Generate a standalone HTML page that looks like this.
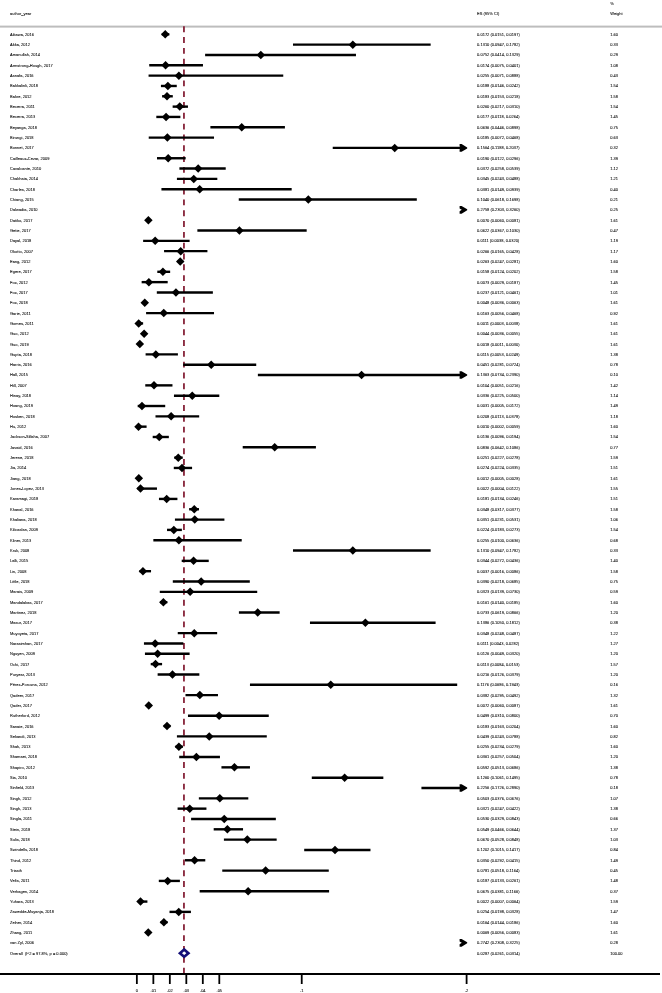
<!DOCTYPE html><html><head><meta charset="utf-8"><style>html,body{margin:0;padding:0;background:#fff;}svg{display:block;will-change:transform}text{stroke:#000;stroke-width:0.06px}</style></head><body>
<svg width="662" height="993" viewBox="0 0 662 993" font-family="Liberation Sans, sans-serif" font-size="4.00" fill="#000">
<text x="10.00" y="15">author_year</text>
<text x="477.10" y="15">ES (95% CI)</text>
<text x="610.20" y="5.2">%</text>
<text x="610.20" y="15.0">Weight</text>
<rect x="0" y="25.6" width="662" height="2" fill="#bdbdbd"/>
<line x1="183.95" y1="26.3" x2="183.95" y2="973" stroke="#862339" stroke-width="1.80" stroke-dasharray="5.9 4.92"/>
<text x="10.00" y="35.80">Aikawa, 2016</text>
<text x="477.10" y="35.80">0.0172 (0.0151, 0.0197)</text>
<text x="610.20" y="35.80">1.60</text>
<line x1="161.76" y1="34.35" x2="169.34" y2="34.35" stroke="#000" stroke-width="2.40"/>
<polygon points="160.97,34.35 165.22,30.10 169.47,34.35 165.22,38.60" fill="#000"/>
<text x="10.00" y="46.12">Akka, 2012</text>
<text x="477.10" y="46.12">0.1310 (0.0947, 0.1782)</text>
<text x="610.20" y="46.12">0.33</text>
<line x1="292.99" y1="44.67" x2="430.66" y2="44.67" stroke="#000" stroke-width="2.40"/>
<polygon points="348.59,44.67 352.84,40.42 357.09,44.67 352.84,48.92" fill="#000"/>
<text x="10.00" y="56.45">Amanullah, 2014</text>
<text x="477.10" y="56.45">0.0752 (0.0414, 0.1329)</text>
<text x="610.20" y="56.45">0.29</text>
<line x1="205.12" y1="55.00" x2="355.97" y2="55.00" stroke="#000" stroke-width="2.40"/>
<polygon points="256.59,55.00 260.84,50.75 265.09,55.00 260.84,59.25" fill="#000"/>
<text x="10.00" y="66.77">Armstrong-Hough, 2017</text>
<text x="477.10" y="66.77">0.0174 (0.0075, 0.0401)</text>
<text x="610.20" y="66.77">1.08</text>
<line x1="149.23" y1="65.32" x2="202.97" y2="65.32" stroke="#000" stroke-width="2.40"/>
<polygon points="161.30,65.32 165.55,61.07 169.80,65.32 165.55,69.57" fill="#000"/>
<text x="10.00" y="77.10">Asnafa, 2016</text>
<text x="477.10" y="77.10">0.0255 (0.0071, 0.0888)</text>
<text x="610.20" y="77.10">0.43</text>
<line x1="148.57" y1="75.65" x2="283.26" y2="75.65" stroke="#000" stroke-width="2.40"/>
<polygon points="174.65,75.65 178.90,71.40 183.15,75.65 178.90,79.90" fill="#000"/>
<text x="10.00" y="87.42">Bakkalinli, 2018</text>
<text x="477.10" y="87.42">0.0188 (0.0146, 0.0242)</text>
<text x="610.20" y="87.42">1.54</text>
<line x1="160.93" y1="85.97" x2="176.76" y2="85.97" stroke="#000" stroke-width="2.40"/>
<polygon points="163.61,85.97 167.86,81.72 172.11,85.97 167.86,90.22" fill="#000"/>
<text x="10.00" y="97.74">Bakre, 2012</text>
<text x="477.10" y="97.74">0.0183 (0.0153, 0.0218)</text>
<text x="610.20" y="97.74">1.58</text>
<line x1="162.09" y1="96.29" x2="172.80" y2="96.29" stroke="#000" stroke-width="2.40"/>
<polygon points="162.78,96.29 167.03,92.04 171.28,96.29 167.03,100.54" fill="#000"/>
<text x="10.00" y="108.07">Becerra, 2011</text>
<text x="477.10" y="108.07">0.0260 (0.0217, 0.0310)</text>
<text x="610.20" y="108.07">1.54</text>
<line x1="172.64" y1="106.62" x2="187.97" y2="106.62" stroke="#000" stroke-width="2.40"/>
<polygon points="175.48,106.62 179.73,102.37 183.98,106.62 179.73,110.87" fill="#000"/>
<text x="10.00" y="118.39">Becerra, 2013</text>
<text x="477.10" y="118.39">0.0177 (0.0118, 0.0264)</text>
<text x="610.20" y="118.39">1.45</text>
<line x1="156.31" y1="116.94" x2="180.39" y2="116.94" stroke="#000" stroke-width="2.40"/>
<polygon points="161.79,116.94 166.04,112.69 170.29,116.94 166.04,121.19" fill="#000"/>
<text x="10.00" y="128.72">Beyanga, 2018</text>
<text x="477.10" y="128.72">0.0636 (0.0446, 0.0898)</text>
<text x="610.20" y="128.72">0.75</text>
<line x1="210.39" y1="127.27" x2="284.91" y2="127.27" stroke="#000" stroke-width="2.40"/>
<polygon points="237.47,127.27 241.72,123.02 245.97,127.27 241.72,131.52" fill="#000"/>
<text x="10.00" y="139.04">Birungi, 2018</text>
<text x="477.10" y="139.04">0.0185 (0.0072, 0.0468)</text>
<text x="610.20" y="139.04">0.63</text>
<line x1="148.73" y1="137.59" x2="214.02" y2="137.59" stroke="#000" stroke-width="2.40"/>
<polygon points="163.11,137.59 167.36,133.34 171.61,137.59 167.36,141.84" fill="#000"/>
<text x="10.00" y="149.36">Bonnet, 2017</text>
<text x="477.10" y="149.36">0.1564 (0.1188, 0.2037)</text>
<text x="610.20" y="149.36">0.32</text>
<line x1="332.73" y1="147.91" x2="462.50" y2="147.91" stroke="#000" stroke-width="2.40"/>
<polygon points="459.60,144.11 461.60,144.11 467.20,147.41 467.20,148.41 461.60,151.71 459.60,151.71 459.60,149.21 461.80,147.91 459.60,146.61" fill="#000"/>
<polygon points="390.47,147.91 394.72,143.66 398.97,147.91 394.72,152.16" fill="#000"/>
<text x="10.00" y="159.69">Cailleaux-Cezar, 2009</text>
<text x="477.10" y="159.69">0.0190 (0.0122, 0.0296)</text>
<text x="610.20" y="159.69">1.39</text>
<line x1="156.97" y1="158.24" x2="185.66" y2="158.24" stroke="#000" stroke-width="2.40"/>
<polygon points="163.94,158.24 168.19,153.99 172.44,158.24 168.19,162.49" fill="#000"/>
<text x="10.00" y="170.01">Cavalcante, 2010</text>
<text x="477.10" y="170.01">0.0372 (0.0258, 0.0539)</text>
<text x="610.20" y="170.01">1.12</text>
<line x1="179.40" y1="168.56" x2="225.72" y2="168.56" stroke="#000" stroke-width="2.40"/>
<polygon points="193.94,168.56 198.19,164.31 202.44,168.56 198.19,172.81" fill="#000"/>
<text x="10.00" y="180.34">Chakhaia, 2014</text>
<text x="477.10" y="180.34">0.0345 (0.0243, 0.0488)</text>
<text x="610.20" y="180.34">1.21</text>
<line x1="176.92" y1="178.89" x2="217.32" y2="178.89" stroke="#000" stroke-width="2.40"/>
<polygon points="189.49,178.89 193.74,174.64 197.99,178.89 193.74,183.14" fill="#000"/>
<text x="10.00" y="190.66">Charles, 2018</text>
<text x="477.10" y="190.66">0.0381 (0.0149, 0.0939)</text>
<text x="610.20" y="190.66">0.40</text>
<line x1="161.43" y1="189.21" x2="291.67" y2="189.21" stroke="#000" stroke-width="2.40"/>
<polygon points="195.43,189.21 199.68,184.96 203.93,189.21 199.68,193.46" fill="#000"/>
<text x="10.00" y="200.98">Chiang, 2015</text>
<text x="477.10" y="200.98">0.1040 (0.0618, 0.1698)</text>
<text x="610.20" y="200.98">0.21</text>
<line x1="238.75" y1="199.53" x2="416.81" y2="199.53" stroke="#000" stroke-width="2.40"/>
<polygon points="304.07,199.53 308.32,195.28 312.57,199.53 308.32,203.78" fill="#000"/>
<text x="10.00" y="211.31">Dalwadia, 2010</text>
<text x="477.10" y="211.31">0.2758 (0.2303, 0.3260)</text>
<text x="610.20" y="211.31">0.25</text>
<polygon points="459.60,206.06 461.60,206.06 467.20,209.36 467.20,210.36 461.60,213.66 459.60,213.66 459.60,211.16 461.80,209.86 459.60,208.56" fill="#000"/>
<text x="10.00" y="221.63">Datiko, 2017</text>
<text x="477.10" y="221.63">0.0070 (0.0060, 0.0081)</text>
<text x="610.20" y="221.63">1.61</text>
<line x1="146.75" y1="220.18" x2="150.21" y2="220.18" stroke="#000" stroke-width="2.40"/>
<polygon points="144.15,220.18 148.40,215.93 152.65,220.18 148.40,224.43" fill="#000"/>
<text x="10.00" y="231.96">Getie, 2017</text>
<text x="477.10" y="231.96">0.0622 (0.0367, 0.1030)</text>
<text x="610.20" y="231.96">0.47</text>
<line x1="197.37" y1="230.51" x2="306.68" y2="230.51" stroke="#000" stroke-width="2.40"/>
<polygon points="235.16,230.51 239.41,226.26 243.66,230.51 239.41,234.76" fill="#000"/>
<text x="10.00" y="242.28">Dayal, 2018</text>
<text x="477.10" y="242.28">0.0111 (0.0038, 0.0320)</text>
<text x="610.20" y="242.28">1.19</text>
<line x1="143.13" y1="240.83" x2="189.62" y2="240.83" stroke="#000" stroke-width="2.40"/>
<polygon points="150.91,240.83 155.16,236.58 159.41,240.83 155.16,245.08" fill="#000"/>
<text x="10.00" y="252.60">Okotto, 2007</text>
<text x="477.10" y="252.60">0.0266 (0.0165, 0.0428)</text>
<text x="610.20" y="252.60">1.17</text>
<line x1="164.06" y1="251.15" x2="207.42" y2="251.15" stroke="#000" stroke-width="2.40"/>
<polygon points="176.47,251.15 180.72,246.90 184.97,251.15 180.72,255.40" fill="#000"/>
<text x="10.00" y="262.93">Eang, 2012</text>
<text x="477.10" y="262.93">0.0263 (0.0247, 0.0281)</text>
<text x="610.20" y="262.93">1.60</text>
<line x1="177.58" y1="261.48" x2="183.19" y2="261.48" stroke="#000" stroke-width="2.40"/>
<polygon points="175.97,261.48 180.22,257.23 184.47,261.48 180.22,265.73" fill="#000"/>
<text x="10.00" y="273.25">Egere, 2017</text>
<text x="477.10" y="273.25">0.0158 (0.0124, 0.0202)</text>
<text x="610.20" y="273.25">1.58</text>
<line x1="157.30" y1="271.80" x2="170.16" y2="271.80" stroke="#000" stroke-width="2.40"/>
<polygon points="158.66,271.80 162.91,267.55 167.16,271.80 162.91,276.05" fill="#000"/>
<text x="10.00" y="283.58">Fox, 2012</text>
<text x="477.10" y="283.58">0.0073 (0.0029, 0.0187)</text>
<text x="610.20" y="283.58">1.45</text>
<line x1="141.64" y1="282.13" x2="167.69" y2="282.13" stroke="#000" stroke-width="2.40"/>
<polygon points="144.65,282.13 148.90,277.88 153.15,282.13 148.90,286.38" fill="#000"/>
<text x="10.00" y="293.90">Fox, 2017</text>
<text x="477.10" y="293.90">0.0237 (0.0121, 0.0461)</text>
<text x="610.20" y="293.90">1.01</text>
<line x1="156.81" y1="292.45" x2="212.87" y2="292.45" stroke="#000" stroke-width="2.40"/>
<polygon points="171.68,292.45 175.93,288.20 180.18,292.45 175.93,296.70" fill="#000"/>
<text x="10.00" y="304.22">Fox, 2018</text>
<text x="477.10" y="304.22">0.0048 (0.0036, 0.0063)</text>
<text x="610.20" y="304.22">1.61</text>
<line x1="142.80" y1="302.77" x2="147.25" y2="302.77" stroke="#000" stroke-width="2.40"/>
<polygon points="140.52,302.77 144.77,298.52 149.02,302.77 144.77,307.02" fill="#000"/>
<text x="10.00" y="314.55">Garie, 2011</text>
<text x="477.10" y="314.55">0.0163 (0.0056, 0.0468)</text>
<text x="610.20" y="314.55">0.92</text>
<line x1="146.09" y1="313.10" x2="214.02" y2="313.10" stroke="#000" stroke-width="2.40"/>
<polygon points="159.48,313.10 163.73,308.85 167.98,313.10 163.73,317.35" fill="#000"/>
<text x="10.00" y="324.87">Gomes, 2011</text>
<text x="477.10" y="324.87">0.0011 (0.0003, 0.0038)</text>
<text x="610.20" y="324.87">1.61</text>
<line x1="137.35" y1="323.42" x2="143.13" y2="323.42" stroke="#000" stroke-width="2.40"/>
<polygon points="134.42,323.42 138.67,319.17 142.92,323.42 138.67,327.67" fill="#000"/>
<text x="10.00" y="335.20">Guo, 2012</text>
<text x="477.10" y="335.20">0.0044 (0.0036, 0.0055)</text>
<text x="610.20" y="335.20">1.61</text>
<line x1="142.80" y1="333.75" x2="145.93" y2="333.75" stroke="#000" stroke-width="2.40"/>
<polygon points="139.86,333.75 144.11,329.50 148.36,333.75 144.11,338.00" fill="#000"/>
<text x="10.00" y="345.52">Guo, 2019</text>
<text x="477.10" y="345.52">0.0018 (0.0011, 0.0030)</text>
<text x="610.20" y="345.52">1.61</text>
<line x1="138.67" y1="344.07" x2="141.81" y2="344.07" stroke="#000" stroke-width="2.40"/>
<polygon points="135.58,344.07 139.83,339.82 144.08,344.07 139.83,348.32" fill="#000"/>
<text x="10.00" y="355.84">Gupta, 2018</text>
<text x="477.10" y="355.84">0.0115 (0.0053, 0.0249)</text>
<text x="610.20" y="355.84">1.38</text>
<line x1="145.60" y1="354.39" x2="177.91" y2="354.39" stroke="#000" stroke-width="2.40"/>
<polygon points="151.57,354.39 155.82,350.14 160.07,354.39 155.82,358.64" fill="#000"/>
<text x="10.00" y="366.17">Harris, 2016</text>
<text x="477.10" y="366.17">0.0451 (0.0281, 0.0724)</text>
<text x="610.20" y="366.17">0.78</text>
<line x1="183.19" y1="364.72" x2="256.23" y2="364.72" stroke="#000" stroke-width="2.40"/>
<polygon points="206.97,364.72 211.22,360.47 215.47,364.72 211.22,368.97" fill="#000"/>
<text x="10.00" y="376.49">Hall, 2015</text>
<text x="477.10" y="376.49">0.1363 (0.0734, 0.2390)</text>
<text x="610.20" y="376.49">0.10</text>
<line x1="257.87" y1="375.04" x2="462.50" y2="375.04" stroke="#000" stroke-width="2.40"/>
<polygon points="459.60,371.24 461.60,371.24 467.20,374.54 467.20,375.54 461.60,378.84 459.60,378.84 459.60,376.34 461.80,375.04 459.60,373.74" fill="#000"/>
<polygon points="357.33,375.04 361.58,370.79 365.83,375.04 361.58,379.29" fill="#000"/>
<text x="10.00" y="386.82">Hill, 2007</text>
<text x="477.10" y="386.82">0.0104 (0.0051, 0.0216)</text>
<text x="610.20" y="386.82">1.42</text>
<line x1="145.27" y1="385.37" x2="172.47" y2="385.37" stroke="#000" stroke-width="2.40"/>
<polygon points="149.76,385.37 154.01,381.12 158.26,385.37 154.01,389.62" fill="#000"/>
<text x="10.00" y="397.14">Hinay, 2018</text>
<text x="477.10" y="397.14">0.0336 (0.0225, 0.0500)</text>
<text x="610.20" y="397.14">1.14</text>
<line x1="173.96" y1="395.69" x2="219.30" y2="395.69" stroke="#000" stroke-width="2.40"/>
<polygon points="188.01,395.69 192.26,391.44 196.51,395.69 192.26,399.94" fill="#000"/>
<text x="10.00" y="407.46">Hoang, 2019</text>
<text x="477.10" y="407.46">0.0031 (0.0005, 0.0172)</text>
<text x="610.20" y="407.46">1.49</text>
<line x1="137.68" y1="406.01" x2="165.22" y2="406.01" stroke="#000" stroke-width="2.40"/>
<polygon points="137.72,406.01 141.97,401.76 146.22,406.01 141.97,410.26" fill="#000"/>
<text x="10.00" y="417.79">Hosken, 2018</text>
<text x="477.10" y="417.79">0.0208 (0.0113, 0.0378)</text>
<text x="610.20" y="417.79">1.18</text>
<line x1="155.49" y1="416.34" x2="199.18" y2="416.34" stroke="#000" stroke-width="2.40"/>
<polygon points="166.90,416.34 171.15,412.09 175.40,416.34 171.15,420.59" fill="#000"/>
<text x="10.00" y="428.11">Hu, 2012</text>
<text x="477.10" y="428.11">0.0010 (0.0002, 0.0059)</text>
<text x="610.20" y="428.11">1.60</text>
<line x1="137.19" y1="426.66" x2="146.59" y2="426.66" stroke="#000" stroke-width="2.40"/>
<polygon points="134.26,426.66 138.51,422.41 142.76,426.66 138.51,430.91" fill="#000"/>
<text x="10.00" y="438.44">Jackson-Sillaha, 2007</text>
<text x="477.10" y="438.44">0.0136 (0.0096, 0.0194)</text>
<text x="610.20" y="438.44">1.54</text>
<line x1="152.69" y1="436.99" x2="168.84" y2="436.99" stroke="#000" stroke-width="2.40"/>
<polygon points="155.03,436.99 159.28,432.74 163.53,436.99 159.28,441.24" fill="#000"/>
<text x="10.00" y="448.76">Javaid, 2016</text>
<text x="477.10" y="448.76">0.0836 (0.0642, 0.1086)</text>
<text x="610.20" y="448.76">0.77</text>
<line x1="242.71" y1="447.31" x2="315.91" y2="447.31" stroke="#000" stroke-width="2.40"/>
<polygon points="270.44,447.31 274.69,443.06 278.94,447.31 274.69,451.56" fill="#000"/>
<text x="10.00" y="459.08">Jerene, 2018</text>
<text x="477.10" y="459.08">0.0251 (0.0227, 0.0278)</text>
<text x="610.20" y="459.08">1.59</text>
<line x1="174.29" y1="457.63" x2="182.69" y2="457.63" stroke="#000" stroke-width="2.40"/>
<polygon points="173.99,457.63 178.24,453.38 182.49,457.63 178.24,461.88" fill="#000"/>
<text x="10.00" y="469.41">Jia, 2014</text>
<text x="477.10" y="469.41">0.0274 (0.0224, 0.0335)</text>
<text x="610.20" y="469.41">1.51</text>
<line x1="173.79" y1="467.96" x2="192.09" y2="467.96" stroke="#000" stroke-width="2.40"/>
<polygon points="177.78,467.96 182.03,463.71 186.28,467.96 182.03,472.21" fill="#000"/>
<text x="10.00" y="479.73">Jiang, 2018</text>
<text x="477.10" y="479.73">0.0012 (0.0005, 0.0028)</text>
<text x="610.20" y="479.73">1.61</text>
<line x1="137.68" y1="478.28" x2="141.48" y2="478.28" stroke="#000" stroke-width="2.40"/>
<polygon points="134.59,478.28 138.84,474.03 143.09,478.28 138.84,482.53" fill="#000"/>
<text x="10.00" y="490.06">Jones-Lopez, 2013</text>
<text x="477.10" y="490.06">0.0022 (0.0004, 0.0122)</text>
<text x="610.20" y="490.06">1.55</text>
<line x1="137.52" y1="488.61" x2="156.97" y2="488.61" stroke="#000" stroke-width="2.40"/>
<polygon points="136.24,488.61 140.49,484.36 144.74,488.61 140.49,492.86" fill="#000"/>
<text x="10.00" y="500.38">Karamagi, 2018</text>
<text x="477.10" y="500.38">0.0181 (0.0134, 0.0246)</text>
<text x="610.20" y="500.38">1.51</text>
<line x1="158.95" y1="498.93" x2="177.42" y2="498.93" stroke="#000" stroke-width="2.40"/>
<polygon points="162.45,498.93 166.70,494.68 170.95,498.93 166.70,503.18" fill="#000"/>
<text x="10.00" y="510.70">Khanal, 2016</text>
<text x="477.10" y="510.70">0.0348 (0.0317, 0.0377)</text>
<text x="610.20" y="510.70">1.58</text>
<line x1="189.12" y1="509.25" x2="199.02" y2="509.25" stroke="#000" stroke-width="2.40"/>
<polygon points="189.98,509.25 194.23,505.00 198.48,509.25 194.23,513.50" fill="#000"/>
<text x="10.00" y="521.03">Khaliana, 2018</text>
<text x="477.10" y="521.03">0.0351 (0.0231, 0.0531)</text>
<text x="610.20" y="521.03">1.06</text>
<line x1="174.94" y1="519.58" x2="224.41" y2="519.58" stroke="#000" stroke-width="2.40"/>
<polygon points="190.48,519.58 194.73,515.33 198.98,519.58 194.73,523.83" fill="#000"/>
<text x="10.00" y="531.35">Kilicaslan, 2009</text>
<text x="477.10" y="531.35">0.0224 (0.0183, 0.0273)</text>
<text x="610.20" y="531.35">1.54</text>
<line x1="167.03" y1="529.90" x2="181.87" y2="529.90" stroke="#000" stroke-width="2.40"/>
<polygon points="169.54,529.90 173.79,525.65 178.04,529.90 173.79,534.15" fill="#000"/>
<text x="10.00" y="541.68">Kliner, 2013</text>
<text x="477.10" y="541.68">0.0255 (0.0100, 0.0636)</text>
<text x="610.20" y="541.68">0.68</text>
<line x1="153.35" y1="540.23" x2="241.72" y2="540.23" stroke="#000" stroke-width="2.40"/>
<polygon points="174.65,540.23 178.90,535.98 183.15,540.23 178.90,544.48" fill="#000"/>
<text x="10.00" y="552.00">Kruk, 2008</text>
<text x="477.10" y="552.00">0.1310 (0.0947, 0.1782)</text>
<text x="610.20" y="552.00">0.33</text>
<line x1="292.99" y1="550.55" x2="430.66" y2="550.55" stroke="#000" stroke-width="2.40"/>
<polygon points="348.59,550.55 352.84,546.30 357.09,550.55 352.84,554.80" fill="#000"/>
<text x="10.00" y="562.32">Lalli, 2015</text>
<text x="477.10" y="562.32">0.0344 (0.0272, 0.0436)</text>
<text x="610.20" y="562.32">1.40</text>
<line x1="181.70" y1="560.87" x2="208.74" y2="560.87" stroke="#000" stroke-width="2.40"/>
<polygon points="189.33,560.87 193.58,556.62 197.83,560.87 193.58,565.12" fill="#000"/>
<text x="10.00" y="572.65">Lin, 2008</text>
<text x="477.10" y="572.65">0.0037 (0.0016, 0.0086)</text>
<text x="610.20" y="572.65">1.58</text>
<line x1="139.50" y1="571.20" x2="151.04" y2="571.20" stroke="#000" stroke-width="2.40"/>
<polygon points="138.71,571.20 142.96,566.95 147.21,571.20 142.96,575.45" fill="#000"/>
<text x="10.00" y="582.97">Little, 2018</text>
<text x="477.10" y="582.97">0.0390 (0.0218, 0.0685)</text>
<text x="610.20" y="582.97">0.75</text>
<line x1="172.80" y1="581.52" x2="249.80" y2="581.52" stroke="#000" stroke-width="2.40"/>
<polygon points="196.91,581.52 201.16,577.27 205.41,581.52 201.16,585.77" fill="#000"/>
<text x="10.00" y="593.30">Marais, 2009</text>
<text x="477.10" y="593.30">0.0323 (0.0139, 0.0730)</text>
<text x="610.20" y="593.30">0.59</text>
<line x1="159.78" y1="591.85" x2="257.22" y2="591.85" stroke="#000" stroke-width="2.40"/>
<polygon points="185.86,591.85 190.11,587.60 194.36,591.85 190.11,596.10" fill="#000"/>
<text x="10.00" y="603.62">Mandalakas, 2017</text>
<text x="477.10" y="603.62">0.0161 (0.0140, 0.0185)</text>
<text x="610.20" y="603.62">1.60</text>
<line x1="159.94" y1="602.17" x2="167.36" y2="602.17" stroke="#000" stroke-width="2.40"/>
<polygon points="159.15,602.17 163.40,597.92 167.65,602.17 163.40,606.42" fill="#000"/>
<text x="10.00" y="613.94">Martinez, 2018</text>
<text x="477.10" y="613.94">0.0733 (0.0619, 0.0866)</text>
<text x="610.20" y="613.94">1.20</text>
<line x1="238.91" y1="612.49" x2="279.64" y2="612.49" stroke="#000" stroke-width="2.40"/>
<polygon points="253.46,612.49 257.71,608.24 261.96,612.49 257.71,616.74" fill="#000"/>
<text x="10.00" y="624.27">Masur, 2017</text>
<text x="477.10" y="624.27">0.1386 (0.1050, 0.1812)</text>
<text x="610.20" y="624.27">0.38</text>
<line x1="309.97" y1="622.82" x2="435.60" y2="622.82" stroke="#000" stroke-width="2.40"/>
<polygon points="361.12,622.82 365.37,618.57 369.62,622.82 365.37,627.07" fill="#000"/>
<text x="10.00" y="634.59">Muyoyeta, 2017</text>
<text x="477.10" y="634.59">0.0348 (0.0248, 0.0487)</text>
<text x="610.20" y="634.59">1.22</text>
<line x1="177.75" y1="633.14" x2="217.15" y2="633.14" stroke="#000" stroke-width="2.40"/>
<polygon points="189.98,633.14 194.23,628.89 198.48,633.14 194.23,637.39" fill="#000"/>
<text x="10.00" y="644.92">Narasimhan, 2017</text>
<text x="477.10" y="644.92">0.0111 (0.0043, 0.0282)</text>
<text x="610.20" y="644.92">1.27</text>
<line x1="143.95" y1="643.47" x2="183.35" y2="643.47" stroke="#000" stroke-width="2.40"/>
<polygon points="150.91,643.47 155.16,639.22 159.41,643.47 155.16,647.72" fill="#000"/>
<text x="10.00" y="655.24">Nguyen, 2009</text>
<text x="477.10" y="655.24">0.0126 (0.0049, 0.0320)</text>
<text x="610.20" y="655.24">1.20</text>
<line x1="144.94" y1="653.79" x2="189.62" y2="653.79" stroke="#000" stroke-width="2.40"/>
<polygon points="153.38,653.79 157.63,649.54 161.88,653.79 157.63,658.04" fill="#000"/>
<text x="10.00" y="665.56">Ochi, 2017</text>
<text x="477.10" y="665.56">0.0113 (0.0084, 0.0153)</text>
<text x="610.20" y="665.56">1.57</text>
<line x1="150.71" y1="664.11" x2="162.09" y2="664.11" stroke="#000" stroke-width="2.40"/>
<polygon points="151.24,664.11 155.49,659.86 159.74,664.11 155.49,668.36" fill="#000"/>
<text x="10.00" y="675.89">Puryear, 2013</text>
<text x="477.10" y="675.89">0.0216 (0.0126, 0.0379)</text>
<text x="610.20" y="675.89">1.20</text>
<line x1="157.63" y1="674.44" x2="199.35" y2="674.44" stroke="#000" stroke-width="2.40"/>
<polygon points="168.22,674.44 172.47,670.19 176.72,674.44 172.47,678.69" fill="#000"/>
<text x="10.00" y="686.21">Pérez-Porcuna, 2012</text>
<text x="477.10" y="686.21">0.1176 (0.0686, 0.1943)</text>
<text x="610.20" y="686.21">0.16</text>
<line x1="249.96" y1="684.76" x2="457.20" y2="684.76" stroke="#000" stroke-width="2.40"/>
<polygon points="326.50,684.76 330.75,680.51 335.00,684.76 330.75,689.01" fill="#000"/>
<text x="10.00" y="696.54">Qadeer, 2017</text>
<text x="477.10" y="696.54">0.0382 (0.0295, 0.0492)</text>
<text x="610.20" y="696.54">1.32</text>
<line x1="185.50" y1="695.09" x2="217.98" y2="695.09" stroke="#000" stroke-width="2.40"/>
<polygon points="195.59,695.09 199.84,690.84 204.09,695.09 199.84,699.34" fill="#000"/>
<text x="10.00" y="706.86">Qader, 2017</text>
<text x="477.10" y="706.86">0.0072 (0.0060, 0.0087)</text>
<text x="610.20" y="706.86">1.61</text>
<line x1="146.75" y1="705.41" x2="151.20" y2="705.41" stroke="#000" stroke-width="2.40"/>
<polygon points="144.48,705.41 148.73,701.16 152.98,705.41 148.73,709.66" fill="#000"/>
<text x="10.00" y="717.18">Rutherford, 2012</text>
<text x="477.10" y="717.18">0.0499 (0.0310, 0.0800)</text>
<text x="610.20" y="717.18">0.70</text>
<line x1="187.97" y1="715.73" x2="268.76" y2="715.73" stroke="#000" stroke-width="2.40"/>
<polygon points="214.88,715.73 219.13,711.48 223.38,715.73 219.13,719.98" fill="#000"/>
<text x="10.00" y="727.51">Sanaie, 2016</text>
<text x="477.10" y="727.51">0.0183 (0.0163, 0.0204)</text>
<text x="610.20" y="727.51">1.60</text>
<line x1="163.73" y1="726.06" x2="170.49" y2="726.06" stroke="#000" stroke-width="2.40"/>
<polygon points="162.78,726.06 167.03,721.81 171.28,726.06 167.03,730.31" fill="#000"/>
<text x="10.00" y="737.83">Sekandi, 2013</text>
<text x="477.10" y="737.83">0.0439 (0.0243, 0.0788)</text>
<text x="610.20" y="737.83">0.82</text>
<line x1="176.92" y1="736.38" x2="266.78" y2="736.38" stroke="#000" stroke-width="2.40"/>
<polygon points="204.99,736.38 209.24,732.13 213.49,736.38 209.24,740.63" fill="#000"/>
<text x="10.00" y="748.16">Shah, 2013</text>
<text x="477.10" y="748.16">0.0255 (0.0234, 0.0279)</text>
<text x="610.20" y="748.16">1.60</text>
<line x1="175.44" y1="746.71" x2="182.86" y2="746.71" stroke="#000" stroke-width="2.40"/>
<polygon points="174.65,746.71 178.90,742.46 183.15,746.71 178.90,750.96" fill="#000"/>
<text x="10.00" y="758.48">Shamaei, 2018</text>
<text x="477.10" y="758.48">0.0361 (0.0257, 0.0504)</text>
<text x="610.20" y="758.48">1.20</text>
<line x1="179.23" y1="757.03" x2="219.95" y2="757.03" stroke="#000" stroke-width="2.40"/>
<polygon points="192.13,757.03 196.38,752.78 200.63,757.03 196.38,761.28" fill="#000"/>
<text x="10.00" y="768.80">Shapiro, 2012</text>
<text x="477.10" y="768.80">0.0592 (0.0513, 0.0686)</text>
<text x="610.20" y="768.80">1.38</text>
<line x1="221.44" y1="767.35" x2="249.96" y2="767.35" stroke="#000" stroke-width="2.40"/>
<polygon points="230.21,767.35 234.46,763.10 238.71,767.35 234.46,771.60" fill="#000"/>
<text x="10.00" y="779.13">Sia, 2010</text>
<text x="477.10" y="779.13">0.1260 (0.1061, 0.1495)</text>
<text x="610.20" y="779.13">0.78</text>
<line x1="311.79" y1="777.68" x2="383.34" y2="777.68" stroke="#000" stroke-width="2.40"/>
<polygon points="340.35,777.68 344.60,773.43 348.85,777.68 344.60,781.93" fill="#000"/>
<text x="10.00" y="789.45">Sinfield, 2013</text>
<text x="477.10" y="789.45">0.2256 (0.1726, 0.2890)</text>
<text x="610.20" y="789.45">0.18</text>
<line x1="421.43" y1="788.00" x2="462.50" y2="788.00" stroke="#000" stroke-width="2.40"/>
<polygon points="459.60,784.20 461.60,784.20 467.20,787.50 467.20,788.50 461.60,791.80 459.60,791.80 459.60,789.30 461.80,788.00 459.60,786.70" fill="#000"/>
<text x="10.00" y="799.78">Singh, 2012</text>
<text x="477.10" y="799.78">0.0503 (0.0376, 0.0676)</text>
<text x="610.20" y="799.78">1.07</text>
<line x1="198.85" y1="798.33" x2="248.31" y2="798.33" stroke="#000" stroke-width="2.40"/>
<polygon points="215.54,798.33 219.79,794.08 224.04,798.33 219.79,802.58" fill="#000"/>
<text x="10.00" y="810.10">Singh, 2013</text>
<text x="477.10" y="810.10">0.0321 (0.0247, 0.0422)</text>
<text x="610.20" y="810.10">1.38</text>
<line x1="177.58" y1="808.65" x2="206.44" y2="808.65" stroke="#000" stroke-width="2.40"/>
<polygon points="185.53,808.65 189.78,804.40 194.03,808.65 189.78,812.90" fill="#000"/>
<text x="10.00" y="820.42">Singla, 2011</text>
<text x="477.10" y="820.42">0.0530 (0.0329, 0.0843)</text>
<text x="610.20" y="820.42">0.66</text>
<line x1="191.10" y1="818.97" x2="275.85" y2="818.97" stroke="#000" stroke-width="2.40"/>
<polygon points="219.99,818.97 224.24,814.72 228.49,818.97 224.24,823.22" fill="#000"/>
<text x="10.00" y="830.75">Stein, 2018</text>
<text x="477.10" y="830.75">0.0549 (0.0466, 0.0644)</text>
<text x="610.20" y="830.75">1.37</text>
<line x1="213.69" y1="829.30" x2="243.04" y2="829.30" stroke="#000" stroke-width="2.40"/>
<polygon points="223.12,829.30 227.37,825.05 231.62,829.30 227.37,833.55" fill="#000"/>
<text x="10.00" y="841.07">Sulis, 2018</text>
<text x="477.10" y="841.07">0.0670 (0.0528, 0.0848)</text>
<text x="610.20" y="841.07">1.03</text>
<line x1="223.91" y1="839.62" x2="276.67" y2="839.62" stroke="#000" stroke-width="2.40"/>
<polygon points="243.07,839.62 247.32,835.37 251.57,839.62 247.32,843.87" fill="#000"/>
<text x="10.00" y="851.40">Swindells, 2018</text>
<text x="477.10" y="851.40">0.1202 (0.1015, 0.1417)</text>
<text x="610.20" y="851.40">0.84</text>
<line x1="304.20" y1="849.95" x2="370.48" y2="849.95" stroke="#000" stroke-width="2.40"/>
<polygon points="330.78,849.95 335.03,845.70 339.28,849.95 335.03,854.20" fill="#000"/>
<text x="10.00" y="861.72">Thind, 2012</text>
<text x="477.10" y="861.72">0.0350 (0.0292, 0.0415)</text>
<text x="610.20" y="861.72">1.49</text>
<line x1="185.00" y1="860.27" x2="205.28" y2="860.27" stroke="#000" stroke-width="2.40"/>
<polygon points="190.31,860.27 194.56,856.02 198.81,860.27 194.56,864.52" fill="#000"/>
<text x="10.00" y="872.04">Triasih</text>
<text x="477.10" y="872.04">0.0781 (0.0518, 0.1164)</text>
<text x="610.20" y="872.04">0.45</text>
<line x1="222.26" y1="870.59" x2="328.77" y2="870.59" stroke="#000" stroke-width="2.40"/>
<polygon points="261.37,870.59 265.62,866.34 269.87,870.59 265.62,874.84" fill="#000"/>
<text x="10.00" y="882.37">Velts, 2011</text>
<text x="477.10" y="882.37">0.0187 (0.0133, 0.0261)</text>
<text x="610.20" y="882.37">1.48</text>
<line x1="158.79" y1="880.92" x2="179.89" y2="880.92" stroke="#000" stroke-width="2.40"/>
<polygon points="163.44,880.92 167.69,876.67 171.94,880.92 167.69,885.17" fill="#000"/>
<text x="10.00" y="892.69">Verhagen, 2014</text>
<text x="477.10" y="892.69">0.0675 (0.0381, 0.1166)</text>
<text x="610.20" y="892.69">0.37</text>
<line x1="199.68" y1="891.24" x2="329.10" y2="891.24" stroke="#000" stroke-width="2.40"/>
<polygon points="243.90,891.24 248.15,886.99 252.40,891.24 248.15,895.49" fill="#000"/>
<text x="10.00" y="903.02">Yuhara, 2013</text>
<text x="477.10" y="903.02">0.0022 (0.0007, 0.0064)</text>
<text x="610.20" y="903.02">1.59</text>
<line x1="138.01" y1="901.57" x2="147.41" y2="901.57" stroke="#000" stroke-width="2.40"/>
<polygon points="136.24,901.57 140.49,897.32 144.74,901.57 140.49,905.82" fill="#000"/>
<text x="10.00" y="913.34">Zawedde-Muyanja, 2018</text>
<text x="477.10" y="913.34">0.0254 (0.0198, 0.0328)</text>
<text x="610.20" y="913.34">1.47</text>
<line x1="169.50" y1="911.89" x2="190.94" y2="911.89" stroke="#000" stroke-width="2.40"/>
<polygon points="174.49,911.89 178.74,907.64 182.99,911.89 178.74,916.14" fill="#000"/>
<text x="10.00" y="923.66">Zelner, 2014</text>
<text x="477.10" y="923.66">0.0164 (0.0144, 0.0186)</text>
<text x="610.20" y="923.66">1.60</text>
<line x1="160.60" y1="922.21" x2="167.53" y2="922.21" stroke="#000" stroke-width="2.40"/>
<polygon points="159.65,922.21 163.90,917.96 168.15,922.21 163.90,926.46" fill="#000"/>
<text x="10.00" y="933.99">Zhang, 2011</text>
<text x="477.10" y="933.99">0.0069 (0.0056, 0.0083)</text>
<text x="610.20" y="933.99">1.61</text>
<line x1="146.09" y1="932.54" x2="150.54" y2="932.54" stroke="#000" stroke-width="2.40"/>
<polygon points="143.99,932.54 148.24,928.29 152.49,932.54 148.24,936.79" fill="#000"/>
<text x="10.00" y="944.31">van Zyl, 2006</text>
<text x="477.10" y="944.31">0.2742 (0.2308, 0.3225)</text>
<text x="610.20" y="944.31">0.28</text>
<polygon points="459.60,939.06 461.60,939.06 467.20,942.36 467.20,943.36 461.60,946.66 459.60,946.66 459.60,944.16 461.80,942.86 459.60,941.56" fill="#000"/>
<text x="10.00" y="954.64" xml:space="preserve">Overall  (I^2 = 97.8%, p = 0.000)</text>
<text x="477.10" y="954.64">0.0287 (0.0261, 0.0314)</text>
<text x="610.20" y="954.64">100.00</text>
<polygon points="179.98,953.19 184.18,949.59 188.38,953.19 184.18,956.79" fill="#fff" stroke="#140f78" stroke-width="2.7"/>
<rect x="0" y="973" width="660" height="2" fill="#000"/>
<line x1="136.86" y1="975" x2="136.86" y2="984" stroke="#000" stroke-width="1.8"/>
<text x="136.86" y="992" text-anchor="middle">0</text>
<line x1="153.35" y1="975" x2="153.35" y2="984" stroke="#000" stroke-width="1.8"/>
<text x="153.35" y="992" text-anchor="middle">.01</text>
<line x1="169.83" y1="975" x2="169.83" y2="984" stroke="#000" stroke-width="1.8"/>
<text x="169.83" y="992" text-anchor="middle">.02</text>
<line x1="186.32" y1="975" x2="186.32" y2="984" stroke="#000" stroke-width="1.8"/>
<text x="186.32" y="992" text-anchor="middle">.03</text>
<line x1="202.81" y1="975" x2="202.81" y2="984" stroke="#000" stroke-width="1.8"/>
<text x="202.81" y="992" text-anchor="middle">.04</text>
<line x1="219.30" y1="975" x2="219.30" y2="984" stroke="#000" stroke-width="1.8"/>
<text x="219.30" y="992" text-anchor="middle">.05</text>
<line x1="301.73" y1="975" x2="301.73" y2="984" stroke="#000" stroke-width="1.8"/>
<text x="301.73" y="992" text-anchor="middle">.1</text>
<line x1="466.60" y1="975" x2="466.60" y2="984" stroke="#000" stroke-width="1.8"/>
<text x="466.60" y="992" text-anchor="middle">.2</text>
</svg></body></html>
